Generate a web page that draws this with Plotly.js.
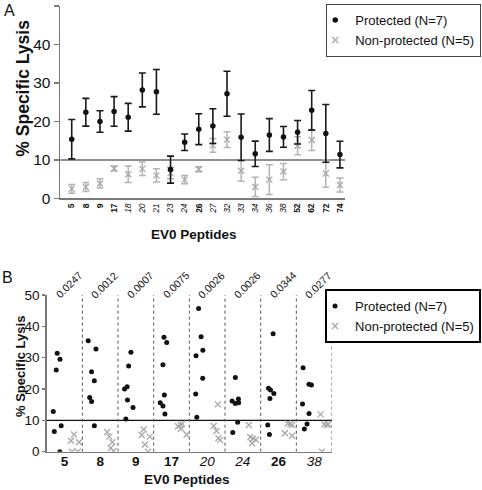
<!DOCTYPE html>
<html>
<head>
<meta charset="utf-8">
<script src="https://cdn.plot.ly/plotly-3.0.1.min.js"></script>
<style>html,body{margin:0;padding:0;background:#fff;}#chart{width:482px;height:490px;}</style>
</head>
<body>
<div id="chart"></div>
<script>
// ---------- Panel A data ----------
const peptidesA = ['5','8','9','17','18','20','21','23','24','26','27','32','33','34','36','38','52','62','72','74'];
const boldPeptides = ['5','8','9','17','26','52','62','72','74'];
const protMeanA = [15.4, 22.4, 20.0, 22.6, 21.1, 28.2, 27.7, 7.5, 14.6, 18.0, 18.8, 27.2, 15.9, 11.6, 16.5, 16.0, 17.2, 22.9, 16.9, 11.4];
const protSemA  = [5.1, 3.6, 2.8, 3.85, 3.6, 4.4, 5.8, 3.5, 2.15, 4.0, 4.5, 5.85, 6.05, 3.3, 4.25, 2.7, 3.05, 5.15, 7.5, 3.45];
const nonMeanA  = [2.5, 3.0, 3.9, 7.8, 6.3, 7.7, 6.0, 6.6, 4.9, 7.6, 13.8, 15.3, 7.2, 3.0, 4.9, 7.0, 13.7, 15.2, 6.5, 3.5];
const nonSemA   = [1.15, 1.15, 1.2, 0.65, 2.15, 1.75, 1.7, 1.5, 1.05, 0.65, 1.8, 2.05, 2.7, 2.5, 3.85, 2.1, 2.35, 2.75, 3.55, 1.8];

// ---------- Panel B data ----------
const peptidesB = ['5','8','9','17','20','24','26','38'];
const pValuesB = ['0.0247','0.0012','0.0007','0.0075','0.0026','0.0026','0.0344','0.0277'];
const protB = [
  [31.4,29.5,26.1,12.8,8.3,6.4,0],
  [35.4,32.8,25.5,22.6,17.3,16.0,8.3],
  [31.7,27.3,20.7,20.0,16.5,14.1,10.4],
  [36.5,34.8,27.7,18.1,15.6,14.6,12.0],
  [45.7,36.7,32.4,30.6,23.4,18.4,11.0],
  [23.7,16.8,16.2,15.6,15.4,9.4,6.1],
  [37.6,20.2,19.7,18.6,17.0,8.5,5.5],
  [26.8,21.5,21.3,15.2,12.2,8.8,7.2]
];
const nonB = [
  [5.5,3.5,3.0,0,0],
  [6.3,4.8,3.0,1.2,0.2],
  [7.1,5.3,4.8,2.3,0],
  [8.9,8.4,8.1,7.3,5.5],
  [15.1,8.2,6.6,4.3,3.7],
  [8.5,4.6,4.2,3.8,2.7],
  [9.0,8.8,8.5,5.9,5.1],
  [11.9,8.8,8.5,8.7,0]
];
const yTicks = [0,10,20,30,40,50];
const threshold = 10;
const protName = 'Protected (N=7)';
const nonName = 'Non-protected (N=5)';
const xTitle = 'EV0 Peptides';
const yTitle = '% Specific Lysis';

// ---------- helpers ----------
const FONT = 'Liberation Sans, Arial, sans-serif';
const styleLabel = p => boldPeptides.includes(p) ? '<b>' + p + '</b>' : '<i>' + p + '</i>';
const BLACK = '#111111';
const GREY = '#a9a9a9';
const AXIS = '#7a7a7a';

const bx = [], by = [], gx = [], gy = [];
peptidesB.forEach((p, i) => {
  protB[i].forEach(v => { bx.push(p); by.push(v); });
  nonB[i].forEach(v => { gx.push(p); gy.push(v); });
});

const blackMarker = {symbol: 'circle', size: 5.5, color: BLACK};
const greyMarker = {symbol: 'x-thin-open', size: 6, color: GREY, line: {color: GREY, width: 1.3}};

const traces = [
  {
    type: 'scatter', mode: 'markers', x: peptidesA, y: nonMeanA, xaxis: 'x', yaxis: 'y',
    name: nonName, legend: 'legend', legendrank: 2, cliponaxis: false,
    marker: greyMarker,
    error_y: {type: 'data', array: nonSemA, color: '#b4b4b4', thickness: 1.5, width: 3.5}
  },
  {
    type: 'scatter', mode: 'markers', x: peptidesA, y: protMeanA, xaxis: 'x', yaxis: 'y',
    name: protName, legend: 'legend', legendrank: 1, cliponaxis: false,
    marker: blackMarker,
    error_y: {type: 'data', array: protSemA, color: '#1a1a1a', thickness: 1.6, width: 3.5}
  },
  {
    type: 'box', x: bx, y: by, xaxis: 'x2', yaxis: 'y2', name: protName, showlegend: false,
    boxpoints: 'all', jitter: 0.7, pointpos: 0, whiskerwidth: 0,
    line: {color: 'rgba(0,0,0,0)', width: 0}, fillcolor: 'rgba(0,0,0,0)',
    marker: {symbol: 'circle', size: 5, color: BLACK}
  },
  {
    type: 'box', x: gx, y: gy, xaxis: 'x2', yaxis: 'y2', name: nonName, showlegend: false,
    boxpoints: 'all', jitter: 0.7, pointpos: 0.5, whiskerwidth: 0,
    line: {color: 'rgba(0,0,0,0)', width: 0}, fillcolor: 'rgba(0,0,0,0)',
    marker: {symbol: 'x-thin-open', size: 6, color: GREY, line: {color: GREY, width: 1.3}}
  },
  {
    type: 'scatter', mode: 'markers', x: [null], y: [null], xaxis: 'x2', yaxis: 'y2',
    name: protName, legend: 'legend2', legendrank: 1, marker: {symbol: 'circle', size: 5, color: BLACK}
  },
  {
    type: 'scatter', mode: 'markers', x: [null], y: [null], xaxis: 'x2', yaxis: 'y2',
    name: nonName, legend: 'legend2', legendrank: 2, marker: greyMarker
  }
];

const shapes = [
  {type: 'line', layer: 'below', xref: 'x domain', x0: 0, x1: 1, yref: 'y', y0: threshold, y1: threshold,
   line: {color: '#6a6a6a', width: 1.5}},
  {type: 'line', layer: 'below', xref: 'x2 domain', x0: 0, x1: 1, yref: 'y2', y0: threshold, y1: threshold,
   line: {color: '#111', width: 1.2}}
];
peptidesB.forEach((p, i) => {
  shapes.push({type: 'line', layer: 'below', xref: 'x2', x0: i + 0.5, x1: i + 0.5, yref: 'y2', y0: 0, y1: 51.5,
    line: {color: '#555', width: 1, dash: 'dot'}});
});

const annotations = [
  {text: 'A', xref: 'paper', yref: 'paper', x: 0.004, y: 1.0, xanchor: 'left', yanchor: 'top',
   showarrow: false, font: {family: FONT, size: 16, color: '#111'}},
  {text: 'B', xref: 'paper', yref: 'paper', x: 0.0, y: 0.455, xanchor: 'left', yanchor: 'top',
   showarrow: false, font: {family: FONT, size: 16, color: '#111'}},
  // axis titles
  {text: '<b>' + yTitle + '</b>', xref: 'paper', yref: 'paper', x: 0.048, y: 0.8194, textangle: -90,
   xanchor: 'center', yanchor: 'middle', showarrow: false, font: {family: FONT, size: 17.5, color: '#111'}},
  {text: '<b>' + xTitle + '</b>', xref: 'paper', yref: 'paper', x: 0.4035, y: 0.5218,
   xanchor: 'center', yanchor: 'middle', showarrow: false, font: {family: FONT, size: 13.5, color: '#111'}},
  {text: '<b>' + yTitle + '</b>', xref: 'paper', yref: 'paper', x: 0.0415, y: 0.251, textangle: -90,
   xanchor: 'center', yanchor: 'middle', showarrow: false, font: {family: FONT, size: 13, color: '#111'}},
  {text: '<b>' + xTitle + '</b>', xref: 'x2 domain', yref: 'paper', x: 0.49, y: 0.0214,
   xanchor: 'center', yanchor: 'middle', showarrow: false, font: {family: FONT, size: 13.5, color: '#111'}}
];
peptidesB.forEach((p, i) => {
  annotations.push({text: pValuesB[i], xref: 'x2', yref: 'paper', x: i, y: 0.4185, xshift: 4,
    textangle: -45, showarrow: false, font: {family: FONT, size: 10.5, color: '#111'}});
});

const layout = {
  width: 482, height: 490,
  margin: {l: 0, r: 0, t: 0, b: 0},
  paper_bgcolor: '#fff', plot_bgcolor: '#fff',
  font: {family: FONT, color: '#111'},
  showlegend: true,
  boxmode: 'group', boxgap: 0.2, boxgroupgap: 0,
  hovermode: false,
  xaxis: {
    domain: [0.1245, 0.7158], anchor: 'y', type: 'category', range: [-0.83, 19.36],
    tickmode: 'array', tickvals: peptidesA, ticktext: peptidesA.map(styleLabel),
    tickangle: -90, tickfont: {family: FONT, size: 8.5, color: '#111'},
    showline: true, linecolor: AXIS, linewidth: 1.5, ticks: '', showgrid: false, zeroline: false,
    automargin: false
  },
  yaxis: {
    domain: [0.5949, 0.9878], anchor: 'x', range: [0, 50],
    tickmode: 'array', tickvals: yTicks, tickfont: {family: FONT, size: 15.5, color: '#111'},
    ticks: 'outside', ticklen: 5, tickwidth: 1.5, tickcolor: AXIS,
    showline: true, linecolor: AXIS, linewidth: 1.5, showgrid: false, zeroline: false,
    automargin: false
  },
  xaxis2: {
    domain: [0.0969, 0.6888], anchor: 'y2', type: 'category', range: [-0.5, 7.5],
    tickmode: 'array', tickvals: peptidesB, ticktext: peptidesB.map(styleLabel),
    tickfont: {family: FONT, size: 13.5, color: '#111'}, ticklabelstandoff: -3,
    showline: true, linecolor: AXIS, linewidth: 1.5, ticks: '', showgrid: false, zeroline: false,
    automargin: false
  },
  yaxis2: {
    domain: [0.0782, 0.398], anchor: 'x2', range: [0, 50],
    tickmode: 'array', tickvals: yTicks, tickfont: {family: FONT, size: 13.5, color: '#111'},
    ticks: 'outside', ticklen: 3, tickwidth: 1.5, tickcolor: AXIS,
    showline: true, linecolor: AXIS, linewidth: 1.5, showgrid: false, zeroline: false,
    automargin: false
  },
  legend: {
    x: 0.998, xanchor: 'right', y: 0.992, yanchor: 'top',
    bgcolor: '#fff', bordercolor: '#444', borderwidth: 1.2,
    font: {family: FONT, size: 13, color: '#111'}, indentation: -12, tracegroupgap: 0
  },
  legend2: {
    x: 0.998, xanchor: 'right', y: 0.41, yanchor: 'top',
    bgcolor: '#fff', bordercolor: '#000', borderwidth: 2,
    font: {family: FONT, size: 13, color: '#111'}, indentation: -12, tracegroupgap: 0
  },
  shapes: shapes,
  annotations: annotations
};

Plotly.newPlot('chart', traces, layout, {displayModeBar: false, staticPlot: true});
</script>
</body>
</html>
